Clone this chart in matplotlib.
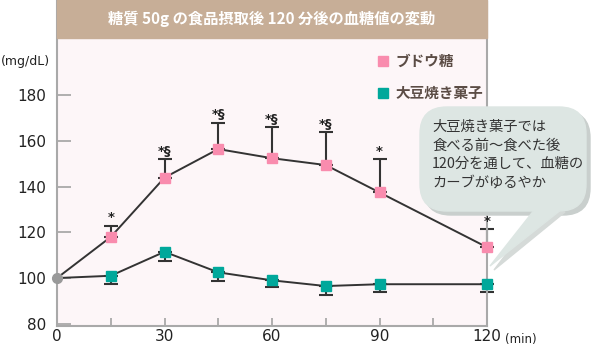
import numpy as np
import matplotlib.pyplot as plt
from matplotlib.patches import Rectangle, FancyBboxPatch, Polygon

plt.rcParams['font.family'] = ['Noto Sans CJK JP', 'DejaVu Sans']

# data
minutes = [0, 15, 30, 45, 60, 75, 90, 120]
glucose = [100, 118, 144, 156.5, 152.5, 149.5, 137.5, 113.5]
glucose_err = [0, 5, 8, 11.5, 13.5, 14.5, 14.5, 8]
soy = [100, 101, 111.5, 102.5, 99, 96.5, 97.3, 97.3]
soy_err = [0, 3.6, 4, 4, 3, 4, 3.6, 3.6]
marks = ['', '*', '*§', '*§', '*§', '*§', '*', '*']
series_names = ['ブドウ糖', '大豆焼き菓子']
title = '糖質 50g の食品摂取後 120 分後の血糖値の変動'
note = '大豆焼き菓子では\n食べる前～食べた後\n120分を通して、血糖の\nカーブがゆるやか'

pink = '#f98cae'
teal = '#00a89b'
W, H = 599, 348

fig = plt.figure(figsize=(W / 100, H / 100), dpi=100)
ax = fig.add_axes([57 / W, 22 / H, 430 / W, 326 / H])
ax.set_facecolor('#fdf6f8')
ax.set_xlim(0, 120)
ax.set_ylim(79, 221.8)

for s in ['left', 'bottom', 'right']:
    ax.spines[s].set_color('#a9a9a9')
    ax.spines[s].set_linewidth(1.5)
ax.spines['top'].set_visible(False)

ax.set_yticks([80, 100, 120, 140, 160, 180])
ax.set_xticks([0, 30, 60, 90, 120])
ax.set_xticks([15, 45, 75, 105], minor=True)
ax.tick_params(axis='y', direction='in', length=10, width=1.3, color='#a9a9a9',
               labelsize=11, pad=8, labelcolor='#222222')
ax.tick_params(axis='x', which='both', direction='in', length=6, width=1.3,
               color='#a9a9a9', labelsize=11, pad=2, labelcolor='#222222')
for lab in ax.get_xticklabels() + ax.get_yticklabels():
    lab.set_family('DejaVu Sans')

# title band
ax.add_patch(Rectangle((0, 1 - 38 / 326), 1, 38 / 326, transform=ax.transAxes,
                       color='#c7ae97', clip_on=False, zorder=5))
ax.text(0.5, 1 - 19 / 326, title, transform=ax.transAxes, ha='center', va='center',
        color='white', fontsize=11, fontweight='bold', zorder=6)

# series
ax.errorbar(minutes[1:], glucose[1:], yerr=[np.zeros(7), glucose_err[1:]], fmt='none',
            ecolor='#333333', elinewidth=1.5, capsize=5, capthick=1.5, zorder=2,
            clip_on=False)
ax.errorbar(minutes[1:], soy[1:], yerr=[soy_err[1:], np.zeros(7)], fmt='none',
            ecolor='#333333', elinewidth=1.5, capsize=5, capthick=1.5, zorder=2,
            clip_on=False)
ax.plot(minutes, glucose, color='#333333', lw=1.4, zorder=3)
ax.plot(minutes, soy, color='#333333', lw=1.4, zorder=3)
ax.plot(minutes[1:], glucose[1:], 's', color=pink, ms=7, zorder=4, clip_on=False)
ax.plot(minutes[1:], soy[1:], 's', color=teal, ms=7, zorder=4, clip_on=False)
ax.plot([0], [100], 'o', color='#999999', ms=7, zorder=4, clip_on=False)

for m, g, e, t in zip(minutes, glucose, glucose_err, marks):
    if t:
        ax.annotate(t, (m, g + e), xytext=(0, 1), textcoords='offset points',
                    ha='center', va='bottom', fontsize=9.5, color='#222222',
                    family=['DejaVu Sans'], fontweight='bold')

# legend
for yy, col, name in [(61, pink, series_names[0]), (93, teal, series_names[1])]:
    fig.patches.append(Rectangle((378 / W, 1 - (yy + 5) / H), 10 / W, 10 / H,
                                 transform=fig.transFigure, color=col))
    fig.text(395 / W, 1 - yy / H, name, ha='left', va='center', fontsize=10.5,
             fontweight='bold', color='#5b4c45')

fig.text(25 / W, 1 - 61 / H, '(mg/dL)', ha='center', va='center', fontsize=9,
         color='#222222', family='DejaVu Sans')
fig.text(505 / W, 1 - 340 / H, '(min)', ha='left', va='center', fontsize=8.5,
         color='#222222', family='DejaVu Sans')

# speech bubble
shadow = FancyBboxPatch((424 / W, 1 - 215 / H), 166 / W, 104 / H,
                        boxstyle='round,pad=0,rounding_size=0.045',
                        transform=fig.transFigure, color='#c9cfcd', zorder=1,
                        mutation_aspect=W / H)
tail_sh = Polygon([(538 / W, 1 - 212 / H), (565 / W, 1 - 212 / H), (494 / W, 1 - 270 / H)],
                  closed=True, transform=fig.transFigure, color='#d5dad8', zorder=1)
bubble = FancyBboxPatch((420 / W, 1 - 211 / H), 166 / W, 104 / H,
                        boxstyle='round,pad=0,rounding_size=0.045',
                        transform=fig.transFigure, color='#dde6e3', zorder=2,
                        mutation_aspect=W / H)
tail = Polygon([(535 / W, 1 - 209 / H), (562 / W, 1 - 209 / H), (490 / W, 1 - 266 / H)],
               closed=True, transform=fig.transFigure, color='#dde6e3', zorder=2)
for p in [shadow, tail_sh, bubble, tail]:
    fig.patches.append(p)
fig.text(432 / W, 1 - 120 / H, note, ha='left', va='top', fontsize=10.3,
         color='#333333', linespacing=1.4, zorder=3)

fig.savefig('out.png', dpi=100)
